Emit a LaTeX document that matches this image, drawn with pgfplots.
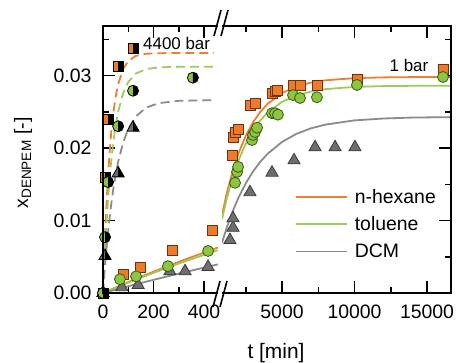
\documentclass[border=0pt]{standalone}
\usepackage{fontspec}
\setmainfont{Liberation Sans}
\usepackage{pgfplots}
\pgfplotsset{compat=1.18}
\definecolor{cor}{HTML}{EE7A2A}
\definecolor{corD}{HTML}{6B3410}
\definecolor{cgr}{HTML}{8CC63E}
\definecolor{cgrD}{HTML}{3A5A14}
\definecolor{cgy}{HTML}{6D6E70}
\definecolor{cgyD}{HTML}{3A3A3A}
\definecolor{lor}{HTML}{EE7E32}
\definecolor{lgr}{HTML}{9CCC58}
\definecolor{lgy}{HTML}{8E8A8A}

\makeatletter
\pgfdeclareplotmark{hsquare}{%
  \pgfpathrectangle{\pgfqpoint{-\pgfplotmarksize}{-\pgfplotmarksize}}{\pgfqpoint{2\pgfplotmarksize}{2\pgfplotmarksize}}%
  \pgfusepathqfill
  \begin{pgfscope}\pgfsetfillcolor{black}%
  \pgfpathrectangle{\pgfqpoint{0pt}{-\pgfplotmarksize}}{\pgfqpoint{\pgfplotmarksize}{2\pgfplotmarksize}}%
  \pgfusepathqfill\end{pgfscope}%
  \pgfpathrectangle{\pgfqpoint{-\pgfplotmarksize}{-\pgfplotmarksize}}{\pgfqpoint{2\pgfplotmarksize}{2\pgfplotmarksize}}%
  \pgfusepathqstroke
}
\pgfdeclareplotmark{hcircle}{%
  \pgfpathcircle{\pgfpointorigin}{\pgfplotmarksize}\pgfusepathqfill
  \begin{pgfscope}\pgfsetfillcolor{black}%
  \pgfpathmoveto{\pgfqpoint{0pt}{-\pgfplotmarksize}}%
  \pgfpatharc{-90}{90}{\pgfplotmarksize}%
  \pgfpathclose\pgfusepathqfill\end{pgfscope}%
  \pgfpathcircle{\pgfpointorigin}{\pgfplotmarksize}\pgfusepathqstroke
}
\pgfdeclareplotmark{ftriangle}{%
  \pgfpathmoveto{\pgfpointpolar{90}{\pgfplotmarksize}}%
  \pgfpathlineto{\pgfpointpolar{-30}{\pgfplotmarksize}}%
  \pgfpathlineto{\pgfpointpolar{210}{\pgfplotmarksize}}%
  \pgfpathclose\pgfusepathqfillstroke
}
\pgfdeclareplotmark{htriangle}{%
  \pgfpathmoveto{\pgfpointpolar{90}{\pgfplotmarksize}}%
  \pgfpathlineto{\pgfpointpolar{-30}{\pgfplotmarksize}}%
  \pgfpathlineto{\pgfpointpolar{210}{\pgfplotmarksize}}%
  \pgfpathclose\pgfusepathqfill
  \begin{pgfscope}\pgfsetfillcolor{black}%
  \pgfpathmoveto{\pgfpointpolar{90}{\pgfplotmarksize}}%
  \pgfpathlineto{\pgfpointpolar{-30}{\pgfplotmarksize}}%
  \pgfpathlineto{\pgfqpoint{0pt}{-0.5\pgfplotmarksize}}%
  \pgfpathclose\pgfusepathqfill\end{pgfscope}%
  \pgfpathmoveto{\pgfpointpolar{90}{\pgfplotmarksize}}%
  \pgfpathlineto{\pgfpointpolar{-30}{\pgfplotmarksize}}%
  \pgfpathlineto{\pgfpointpolar{210}{\pgfplotmarksize}}%
  \pgfpathclose\pgfusepathqstroke
}
\makeatother

\pgfplotsset{
  common/.style={
    scale only axis, height=267bp, ymin=0, ymax=0.03683,
    axis line style={draw=none},
    tick align=inside,
    major tick length=12bp, minor tick length=6bp,
    tick style={black, line width=1.5bp},
    ytick={0,0.01,0.02,0.03}, minor ytick={0.005,0.015,0.025,0.035},
    scaled ticks=false,
    ticklabel style={font=\fontsize{19.5}{22}\selectfont},
    /pgf/number format/assume math mode=true,
  },
  sq1/.style={only marks, mark=square*, mark size=5bp, mark options={fill=cor, draw=corD, line width=0.8bp}},
  ci1/.style={only marks, mark=*, mark size=5.5bp, mark options={fill=cgr, draw=cgrD, line width=0.8bp}},
  tr1/.style={only marks, mark=ftriangle, mark size=7bp, mark options={fill=cgy, draw=cgyD, line width=0.8bp}},
  sq4/.style={only marks, mark=hsquare, mark size=5bp, mark options={fill=cor, draw=black, line width=0.8bp}},
  ci4/.style={only marks, mark=hcircle, mark size=5.5bp, mark options={fill=cgr, draw=black, line width=0.8bp}},
  tr4/.style={only marks, mark=htriangle, mark size=7bp, mark options={fill=cgy, draw=black, line width=0.8bp}},
}

\begin{document}
\begin{tikzpicture}[x=1bp, y=1bp]
\useasboundingbox (0,0) rectangle (456,362);

% ---------------- left panel (0 - 455 min) ----------------
\begin{axis}[common, name=L, at={(103bp,69bp)}, anchor=south west, width=115bp,
  xmin=0, xmax=455.4, xtick={0,200,400}, xticklabels={0,200,400}, minor xtick={100,300},
  ytick pos=left, yticklabels={0.00,0.01,0.02,0.03},
  xticklabel style={yshift=-8bp}, yticklabel style={xshift=-8bp}]
% 1 bar fits
\addplot[lor, line width=1.8bp] coordinates {(0,0) (100,0.00151) (200,0.00294) (300,0.00430) (455,0.00628)};
\addplot[lgr, line width=1.8bp] coordinates {(0,0) (100,0.00142) (200,0.00277) (300,0.00406) (455,0.00592)};
\addplot[lgy, line width=1.8bp] coordinates {(0,0) (100,0.00093) (200,0.00182) (300,0.00268) (455,0.00395)};
% 4400 bar fits
\addplot[lor, line width=1.8bp, dash pattern=on 9bp off 5bp] coordinates {(0,0) (5,0.00517) (10,0.00954) (20,0.01633) (30,0.02116) (40,0.02460) (50,0.02705) (60,0.02880) (80,0.03092) (100,0.03200) (130,0.03270) (170,0.03300) (220,0.03308) (300,0.0331) (440,0.0331)};
\addplot[lgr, line width=1.8bp, dash pattern=on 9bp off 5bp] coordinates {(0,0) (5,0.00394) (10,0.00738) (20,0.01302) (30,0.01732) (40,0.02060) (50,0.02311) (60,0.02503) (80,0.02760) (100,0.02910) (130,0.03027) (170,0.03088) (220,0.03112) (300,0.0312) (440,0.0312)};
\addplot[lgy, line width=1.8bp, dash pattern=on 9bp off 5bp] coordinates {(0,0) (5,0.00241) (10,0.00460) (20,0.00841) (30,0.01156) (40,0.01416) (50,0.01631) (60,0.01809) (80,0.02078) (100,0.02262) (130,0.02435) (170,0.02555) (220,0.02619) (300,0.02651) (440,0.0266)};
% 1 bar data
\addplot[tr1] coordinates {(0,0) (75,0.0008) (139,0.0011) (265,0.0030) (325,0.0030) (416,0.0036)};
\addplot[sq1] coordinates {(0,0) (79,0.0026) (147,0.0036) (273,0.0059) (432,0.0087)};
\addplot[ci1] coordinates {(0,0) (67,0.0019) (131,0.0023) (257,0.0037) (416,0.0058)};
% 4400 bar data
\addplot[tr4] coordinates {(0,0) (8,0.0051) (60,0.0165) (119,0.0228)};
\addplot[sq4] coordinates {(0,0) (8,0.0160) (20,0.0240) (60,0.0313) (119,0.0337)};
\addplot[ci4] coordinates {(0,0) (8,0.0077) (20,0.0153) (60,0.0230) (119,0.0279) (356,0.0297)};
\end{axis}

% ---------------- right panel (862 - 16655 min) ----------------
\begin{axis}[common, name=R, at={(222bp,69bp)}, anchor=south west, width=229bp,
  xmin=862, xmax=16655, xtick={5000,10000,15000}, xticklabels={5000,10000,15000},
  minor xtick={2500,7500,12500},
  ytick pos=right, yticklabels={},
  xticklabel style={yshift=-8bp},
  legend style={at={(rel axis cs:0.318,0.398)}, anchor=north west, draw=none, fill=none,
    font=\fontsize{19.5}{22}\selectfont, row sep=8bp, column sep=5bp, inner sep=0pt},
  legend cell align=left,
  legend image code/.code={\draw (0bp,0bp) -- (51bp,0bp);}]
\addplot[lor, line width=1.8bp] coordinates {(862,0.01076) (1200,0.01383) (1600,0.01683) (2000,0.01927) (2500,0.02168) (3000,0.02354) (3500,0.02497) (4000,0.02608) (5000,0.02759) (6000,0.02848) (7000,0.02902) (8000,0.02934) (10000,0.02964) (12000,0.02974) (14000,0.02978) (16655,0.0298)};
\addlegendentry{n-hexane}
\addplot[lgr, line width=1.8bp] coordinates {(862,0.01017) (1200,0.01309) (1600,0.01595) (2000,0.01829) (2500,0.02061) (3000,0.02241) (3500,0.02380) (4000,0.02488) (5000,0.02637) (6000,0.02726) (7000,0.02779) (8000,0.02812) (10000,0.02843) (12000,0.02854) (14000,0.02858) (16655,0.0286)};
\addlegendentry{toluene}
\addplot[lgy, line width=1.8bp] coordinates {(862,0.00694) (1200,0.00908) (1600,0.01128) (2000,0.01316) (2500,0.01513) (3000,0.01676) (3500,0.01809) (4000,0.01919) (5000,0.02084) (6000,0.02196) (7000,0.02272) (8000,0.02323) (10000,0.02381) (12000,0.02407) (14000,0.02420) (16655,0.02426)};
\addlegendentry{DCM}
\addplot[tr1, forget plot] coordinates {(1410,0.0073) (1620,0.0090) (1620,0.0103) (2790,0.0139) (4310,0.0166) (5830,0.0183) (7280,0.0201) (8660,0.0201) (10030,0.0201)};
\addplot[sq1, forget plot] coordinates {(1550,0.0190) (1620,0.0215) (1760,0.0222) (1970,0.0226) (2790,0.0259) (3140,0.0262) (4310,0.0276) (4520,0.0278) (4660,0.0280) (5760,0.0287) (6240,0.0287) (7410,0.0287) (10170,0.0294) (16100,0.0308)};
\addplot[ci1, forget plot] coordinates {(1760,0.0152) (1900,0.0167) (1970,0.0174) (2930,0.0211) (3000,0.0218) (3140,0.0222) (3280,0.0228) (4310,0.0248) (4520,0.0248) (4720,0.0246) (5760,0.0273) (6240,0.0269) (7410,0.0270) (10170,0.0287) (16100,0.0298)};
\end{axis}

% frames
\draw[line width=1.6bp] (L.north east) -- (L.north west) -- (L.south west) -- (L.south east);
\draw[line width=1.6bp] (R.north west) -- (R.north east) -- (R.south east) -- (R.south west);
% axis breaks
\draw[line width=1.6bp] (214,326) -- (221,352) (221,326) -- (228,352);
\draw[line width=1.6bp] (213,55) -- (220,81) (220,55) -- (227,81);

% annotations and labels
\node[anchor=west, font=\fontsize{17}{20}\selectfont, inner sep=0pt] at (143,319) {4400 bar};
\node[anchor=center, font=\fontsize{17}{20}\selectfont, inner sep=0pt] at (409,297) {1 bar};
\node[rotate=90, anchor=base, font=\fontsize{19.5}{22}\selectfont, inner sep=0pt] at (28,199) {x\textsubscript{DENPEM} [-]};
\node[anchor=base, font=\fontsize{21}{24}\selectfont, inner sep=0pt] at (276,4) {t [min]};
\end{tikzpicture}
\end{document}
